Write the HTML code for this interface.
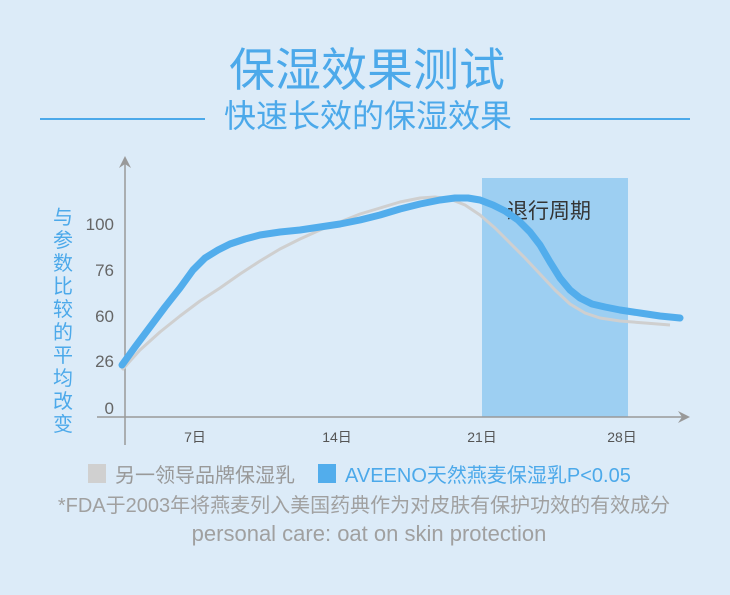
<!DOCTYPE html>
<html><head><meta charset="utf-8"><style>
body{margin:0;width:730px;height:595px;background:#dcebf8;overflow:hidden}
svg{display:block}
text{font-family:"Liberation Sans","Noto Sans CJK SC",sans-serif}
</style></head><body>
<svg width="730" height="595" viewBox="0 0 730 595">
<rect width="730" height="595" fill="#dcebf8"/>
<text x="367" y="86" text-anchor="middle" font-size="46" fill="#4ca9ea">保湿效果测试</text>
<line x1="40" y1="119" x2="205" y2="119" stroke="#4ca9ea" stroke-width="2"/>
<line x1="530" y1="119" x2="690" y2="119" stroke="#4ca9ea" stroke-width="2"/>
<text x="368" y="127" text-anchor="middle" font-size="32" fill="#4ca9ea">快速长效的保湿效果</text>
<rect x="482" y="178" width="146" height="239" fill="#9dcff2"/>
<text x="507" y="218" font-size="21" fill="#333">退行周期</text>
<line x1="125" y1="158" x2="125" y2="445" stroke="#999" stroke-width="1.5"/>
<path d="M119 168 L125 156 L131 168 L125 164Z" fill="#999"/>
<line x1="97" y1="417" x2="686" y2="417" stroke="#999" stroke-width="1.5"/>
<path d="M678 411 L690 417 L678 423 L682 417Z" fill="#999"/>
<g font-size="17" fill="#666" text-anchor="end">
<text x="114" y="230">100</text><text x="114" y="276">76</text><text x="114" y="322">60</text><text x="114" y="367">26</text><text x="114" y="414">0</text>
</g>
<g font-size="14" fill="#555" text-anchor="middle">
<text x="195" y="442">7日</text><text x="337" y="442">14日</text><text x="482" y="442">21日</text><text x="622" y="442">28日</text>
</g>
<g font-size="20" fill="#4ca9ea" text-anchor="middle">
<text x="63" y="224">与</text><text x="63" y="247">参</text><text x="63" y="270">数</text><text x="63" y="293">比</text><text x="63" y="316">较</text><text x="63" y="339">的</text><text x="63" y="362">平</text><text x="63" y="385">均</text><text x="63" y="408">改</text><text x="63" y="431">变</text>
</g>
<polyline points="122,370 140,350 160,332 180,316 200,301 220,288 240,274 260,261 280,249 300,239 320,230 340,222 360,214 380,208 400,202 420,198 435,197 450,199 465,205 480,215 495,228 510,243 525,258 540,274 555,290 570,304 585,313 600,318 620,321 645,323 670,325" fill="none" stroke="#cfcfcf" stroke-width="3" stroke-linejoin="round"/>
<polyline points="122,365 135,347 150,327 165,307 180,288 193,270 205,258 218,250 230,244 245,239 260,235 280,232 300,230 320,227 340,224 360,220 380,215 400,209 420,204 440,200 455,198 468,198 480,200 493,205 505,211 518,220 530,232 540,245 550,262 560,278 570,290 580,298 592,304 605,307 620,310 640,313 660,316 680,318" fill="none" stroke="#52adec" stroke-width="7" stroke-linejoin="round" stroke-linecap="round"/>
<rect x="88" y="464" width="18" height="19" fill="#d0d0d0"/>
<text x="115" y="482" font-size="20" fill="#999">另一领导品牌保湿乳</text>
<rect x="318" y="464" width="18" height="19" fill="#52adec"/>
<text x="345" y="482" font-size="20" fill="#4ca9ea">AVEENO天然燕麦保湿乳P&lt;0.05</text>
<text x="364" y="512" text-anchor="middle" font-size="20" fill="#a0a0a0">*FDA于2003年将燕麦列入美国药典作为对皮肤有保护功效的有效成分</text>
<text x="369" y="541" text-anchor="middle" font-size="22" fill="#a0a0a0">personal care: oat on skin protection</text>
</svg>
</body></html>
